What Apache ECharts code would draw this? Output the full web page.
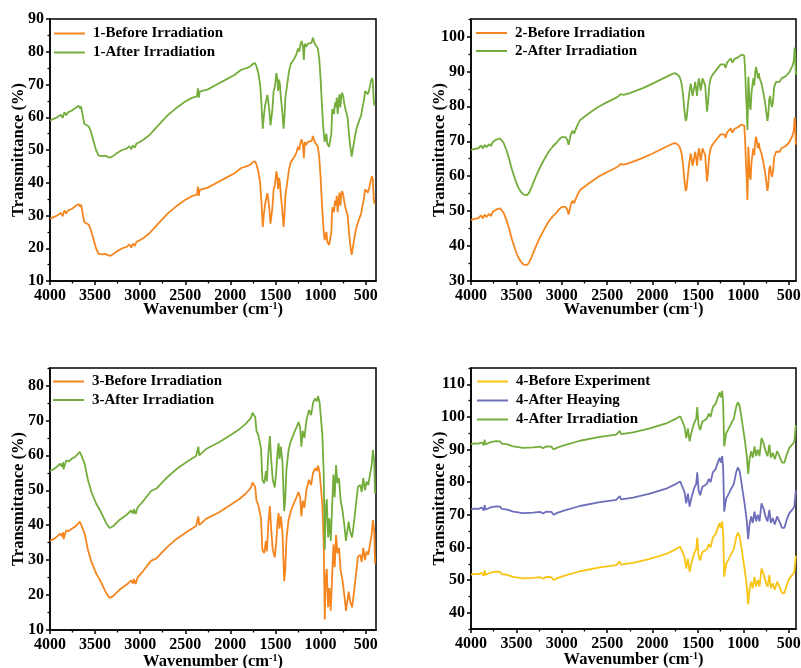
<!DOCTYPE html>
<html>
<head>
<meta charset="utf-8">
<title>FTIR spectra</title>
<script src="https://cdn.jsdelivr.net/npm/echarts@6/dist/echarts.min.js"></script>
<style>
  html, body { margin: 0; padding: 0; background: #fff; }
  #chart { width: 801px; height: 668px; }
</style>
</head>
<body>
<div id="chart"></div>
<script>
// ---- Panel 1 ----
const p1Wavenumber = [4000,3960,3920,3880,3860,3840,3820,3800,3780,3760,3740,3720,3700,3680,3665,3655,3640,3620,3600,3570,3545,3520,3490,3460,3420,3390,3360,3330,3300,3260,3200,3150,3120,3100,3080,3060,3040,3000,2960,2900,2850,2800,2750,2700,2600,2500,2420,2370,2360,2350,2340,2320,2250,2150,2050,1950,1880,1820,1780,1750,1735,1725,1710,1690,1670,1655,1640,1630,1615,1600,1590,1580,1568,1555,1545,1535,1520,1505,1490,1480,1470,1460,1450,1440,1425,1410,1400,1390,1370,1350,1330,1300,1270,1250,1235,1225,1210,1195,1185,1175,1160,1140,1120,1100,1085,1075,1065,1050,1030,1015,1000,985,970,955,945,935,925,915,905,890,880,870,860,850,840,830,820,810,800,790,780,770,760,750,735,720,700,685,670,655,645,635,625,610,595,580,565,550,535,520,505,490,475,460,445,430,420,410,400];
const p1After = [59,59.5,60,60.8,59.8,61.5,60.6,61.5,60.9,62,61.6,62.8,62.4,63.5,62.6,63.3,61,58,57.5,57.2,55.5,53,50,48.3,48.1,48.3,47.9,47.7,48.2,49,50,50.4,51.2,50.2,51.4,50.7,52,52.5,53.2,54.5,56,57.5,59,60.5,62.8,64.8,66,66.4,68.8,66,67.8,67.8,68.5,70,71.5,73,74.5,75,75.5,76.3,75.8,76.5,75.5,73.5,70,64,56.5,60,63.5,64,66.8,65,62,57.5,57,62,68,69.5,73.5,72,68,71.5,70,66,62,56.5,60,66,70,74,76.3,77.5,79,81,80,82,83.3,81.5,77.5,82.5,81.5,82.5,83,82.7,84.3,83.8,82.5,83,81,78,72,64,57,52.5,53,55,52,52.5,51,51.5,55,62.5,63,61,64.5,63,66,61,64.5,67,63,66.5,67.5,66.5,64,62,60,55,51,48,47.6,48.5,53,55.5,57,57.5,59.5,60.5,63,65,68,67.5,67,68.5,70.5,72,71,65,63.5];
const p1Before = [29,29.5,30,30.8,29.8,31.5,30.6,31.5,30.9,32,31.6,32.8,32.4,33.5,32.6,33.3,31,28,27.5,27.2,25.5,23,20,18.3,18.1,18.3,17.9,17.7,18.2,19,20,20.4,21.2,20.2,21.4,20.7,22,22.5,23.2,24.5,26,27.5,29,30.5,32.8,34.8,36,36.4,38.8,36,37.8,37.8,38.5,40,41.5,43,44.5,45,45.5,46.3,45.8,46.5,45.5,43.5,40,34,26.5,30,33.5,34,36.8,35,32,27.5,27,32,38,39.5,43.5,42,38,41.5,40,36,32,26.5,30,36,40,44,46.3,47.5,49,51,50,52,53.3,51.5,47.5,52.5,51.5,52.5,53,52.7,54.3,53.8,52.5,53,51,48,42,34,27,22.5,23,25,22,22.5,21,21.5,25,32.5,33,31,34.5,33,36,31,34.5,37,33,36.5,37.5,36.5,34,32,30,25,21,18,17.6,18.5,23,25.5,27,27.5,29.5,30.5,33,35,38,37.5,37,38.5,40.5,42,41,35,33.5];

// ---- Panel 2 ----
const p2Wavenumber = [4000,3960,3920,3890,3870,3850,3830,3800,3780,3760,3740,3720,3700,3680,3660,3640,3610,3580,3550,3510,3480,3450,3420,3400,3380,3360,3330,3300,3250,3200,3150,3100,3060,3030,3000,2980,2960,2940,2925,2915,2900,2880,2865,2850,2830,2800,2750,2700,2600,2500,2420,2380,2350,2320,2300,2250,2200,2100,2000,1900,1820,1780,1750,1720,1700,1680,1665,1650,1635,1625,1610,1595,1580,1570,1560,1550,1540,1530,1520,1510,1500,1490,1480,1470,1460,1450,1440,1430,1420,1410,1400,1390,1375,1360,1340,1310,1280,1250,1230,1210,1195,1180,1160,1140,1120,1100,1080,1060,1040,1020,1000,990,980,970,962,955,950,945,940,930,920,910,900,890,880,870,860,850,840,830,820,800,780,760,745,735,725,715,705,695,685,675,660,640,620,600,580,560,540,520,500,480,460,445,435,430,422];
const p2After = [67.5,67.8,68,68.8,67.9,69,68.3,69.2,68.6,69.8,69.3,70.5,70.2,70.8,70.2,69.5,67.5,65,62,58.8,56.8,55.5,54.7,54.5,54.6,55.3,57,59,62,64.5,66.8,68.5,69.5,70.5,71.2,71.5,71.2,70.5,69,70.2,72,73,72.2,72.5,74.5,76,77,78,79.8,81.2,82.2,82.8,83.5,83.3,83.5,83.8,84.3,85.3,86.5,87.8,88.8,89.3,89.5,89,88.3,86.5,83.5,79,75.8,76.5,80.5,84,86.5,85,83,82.5,85.5,87,85,83,86,88,86.5,84.5,86,88,87.5,88.2,86,82,78.5,81,86,88,89,90,91,92,92.5,92,91,92.5,93,93.7,92.5,93.5,94,94,94.5,94.8,95.2,94.5,90,83,79,73.2,79,88.5,86,80,79,84,86,88,86,89.5,91.3,90,88,89.5,88,86.5,84,81,78,75.8,77.5,82,83,81,79.8,81,85.5,87,87.5,87,88,88.5,88.5,89,89.5,90.5,91.5,93,96.8,95,89];
const p2Before = [47.5,47.8,48,48.8,47.9,49,48.3,49.2,48.6,49.8,49.3,50.5,50.2,50.8,50.2,49.5,47.5,45,42,38.8,36.8,35.5,34.7,34.5,34.6,35.3,37,39,42,44.5,46.8,48.5,49.5,50.5,51.2,51.5,51.2,50.5,49,50.2,52,53,52.2,52.5,54.5,56,57,58,59.8,61.2,62.2,62.8,63.5,63.3,63.5,63.8,64.3,65.3,66.5,67.8,68.8,69.3,69.5,69,68.3,66.5,63.5,59,55.8,56.5,60.5,64,66.5,65,63,62.5,65.5,67,65,63,66,68,66.5,64.5,66,68,67.5,68.2,66,62,58.5,61,66,68,69,70,71,72,72.5,72,71,72.5,73,73.7,72.5,73.5,74,74,74.5,74.8,75.2,74.5,70,63,59,53.2,59,68.5,66,60,59,64,66,68,66,69.5,71.3,70,68,69.5,68,66.5,64,61,58,55.8,57.5,62,63,61,59.8,61,65.5,67,67.5,67,68,68.5,68.5,69,69.5,70.5,71.5,73,76.8,75,69];

// ---- Panel 3 ----
const p3Wavenumber = [4000,3960,3920,3890,3870,3855,3850,3820,3790,3760,3720,3690,3670,3655,3640,3615,3580,3540,3485,3450,3375,3340,3300,3230,3150,3100,3080,3070,3050,3030,2970,2880,2820,2710,2600,2490,2380,2355,2345,2335,2270,2120,1975,1900,1830,1770,1755,1740,1725,1710,1690,1675,1660,1645,1625,1605,1595,1580,1562,1548,1530,1508,1492,1477,1465,1455,1440,1422,1403,1392,1378,1355,1330,1292,1263,1245,1226,1212,1197,1178,1157,1128,1105,1083,1060,1042,1027,1010,997,980,965,953,942,931,916,902,887,872,857,843,828,813,795,777,758,736,718,703,688,670,651,633,611,585,559,544,526,507,489,470,452,434,419,404,396];
const p3After = [55.6,56,56.8,57.6,56.8,58,56,58.5,58.3,59,59.6,60.4,61,60.2,60,57.5,53,49.5,46,44.5,40.5,39.2,39.7,41.5,43,44.2,43.3,44.6,43.2,45,46.8,49.8,50.5,53.5,56,58,59.8,62.5,60,60.5,61.8,63.8,66.2,67.5,69,70.8,72.2,72,71,67,65.8,66.2,62,53,52,55.5,52.5,60,65.5,59,53,50.8,55,61,63.5,59,62.5,58,44,47,56,61.5,64,66.5,68.2,69.5,68,62.5,67,65,70,73,71.5,75,76.3,75.5,77,75,71,66,55,33,45,47.5,36.5,42,35.5,45,54.5,48,57.2,52,53.5,47,44.5,40,35.5,35,41,38,36.5,40,45,51,51.5,49.5,53.5,50,52.5,51.5,54.5,57,61.5,58,49];
const p3Before = [35.6,36,36.8,37.6,36.8,38,36,38.5,38.3,39,39.6,40.4,41,40.2,40,37.5,33,29.5,26,24.5,20.5,19.2,19.7,21.5,23,24.2,23.3,24.6,23.2,25,26.8,29.8,30.5,33.5,36,38,39.8,42.5,40,40.5,41.8,43.8,46.2,47.5,49,50.8,52.2,52,51,47,45.8,46.2,42,33,32,35.5,32.5,40,45.5,39,33,30.8,35,41,43.5,39,42.5,38,24,27,36,41.5,44,46.5,48.2,49.5,48,42.5,47,45,50,53,51.5,55,56.3,55.5,57,55,51,46,35,13,25,27.5,16.5,22,15.5,25,34.5,28,37.2,32,33.5,27,24.5,20,15.5,15,21,18,16.5,20,25,31,31.5,29.5,33.5,30,32.5,31.5,34.5,37,41.5,38,29];

// ---- Panel 4 ----
const p4Wavenumber = [4000,3960,3920,3880,3860,3850,3840,3800,3760,3740,3720,3700,3680,3660,3640,3600,3535,3425,3315,3240,3205,3170,3115,3090,3075,3050,2985,2800,2580,2400,2362,2347,2215,2030,1850,1740,1695,1673,1648,1629,1611,1592,1574,1544,1519,1508,1493,1475,1453,1427,1401,1380,1361,1336,1306,1281,1262,1248,1233,1222,1211,1189,1160,1134,1105,1079,1061,1042,1024,1006,984,962,947,932,914,896,877,859,841,822,800,778,756,734,713,698,676,654,628,603,573,548,522,493,463,438,422];
const p4Irradiation = [91.7,91.9,91.8,92.2,91.3,93,91.6,92.1,92.4,91.8,92.6,92,92.5,91.8,92.2,91.6,91,90.5,90.7,90.9,90.4,91,90.9,90,89.8,90.6,91.2,92.7,93.9,94.6,95.7,94.7,95.3,96.5,98,99.5,100.2,99.8,97,93.5,96.5,92.5,95,98,99.5,103,97.5,96,98.5,99,99.5,101,100,103,104,106,107.5,106,108,104,91,95,96.5,98,99.5,103,104.5,103.5,100.5,97,93,88,82.5,87,89.5,87.5,91,88,90,88,93.5,92,89.5,88,91.5,87.5,89,87,89.5,88,86,86,88.5,90.5,91.5,92.5,97.5];
const p4Heaying = [71.7,71.9,71.8,72.2,71.3,73,71.6,72.1,72.4,71.8,72.6,72,72.5,71.8,72.2,71.6,71,70.5,70.7,70.9,70.4,71,70.9,70,69.8,70.6,71.2,72.7,73.9,74.6,75.7,74.7,75.3,76.5,78,79.5,80.2,79.8,77,73.5,76.5,72.5,75,78,79.5,83,77.5,76,78.5,79,79.5,81,80,83,84,86,87.5,86,88,84,71,75,76.5,78,79.5,83,84.5,83.5,80.5,77,73,68,62.5,67,69.5,67.5,71,68,70,68,73.5,72,69.5,68,71.5,67.5,69,67,69.5,68,66,66,68.5,70.5,71.5,72.5,77.5];
const p4Before = [51.7,51.9,51.8,52.2,51.3,53,51.6,52.1,52.4,51.8,52.6,52,52.5,51.8,52.2,51.6,51,50.5,50.7,50.9,50.4,51,50.9,50,49.8,50.6,51.2,52.7,53.9,54.6,55.7,54.7,55.3,56.5,58,59.5,60.2,59.8,57,53.5,56.5,52.5,55,58,59.5,63,57.5,56,58.5,59,59.5,61,60,63,64,66,67.5,66,68,64,51,55,56.5,58,59.5,63,64.5,63.5,60.5,57,53,48,42.5,47,49.5,47.5,51,48,50,48,53.5,52,49.5,48,51.5,47.5,49,47,49.5,48,46,46,48.5,50.5,51.5,52.5,57.5];

// ---- Axis ticks ----
const xMajorTicks = [4000,3500,3000,2500,2000,1500,1000,500];
const xMinorTicks = [3750,3250,2750,2250,1750,1250,750];
const y1Major = [10,20,30,40,50,60,70,80,90];
const y1Minor = [15,25,35,45,55,65,75,85];
const y2Major = [30,40,50,60,70,80,90,100];
const y2Minor = [35,45,55,65,75,85,95,105];
const y3Major = [10,20,30,40,50,60,70,80];
const y3Minor = [15,25,35,45,55,65,75,85];
const y4Major = [40,50,60,70,80,90,100,110];
const y4Minor = [35,45,55,65,75,85,95,105,115];

// ---- Colours ----
const ORANGE = '#F5861F';
const GREEN = '#74AD3C';
const YELLOW = '#F8C415';
const PURPLE = '#6E6EBB';

const FONT = '"Liberation Serif", "Times New Roman", serif';

const panels = [
  {
    grid: { left: 50, top: 19, width: 326, height: 262 },
    xMin: 385, yMin: 10, yMax: 90, yMajor: y1Major, yMinor: y1Minor, xNameGap: 20,
    legend: { left: 54, top: 25.5, itemGap: 3 },
    wn: p1Wavenumber,
    series: [
      { name: '1-Before Irradiation', values: p1Before, color: ORANGE },
      { name: '1-After Irradiation', values: p1After, color: GREEN }
    ]
  },
  {
    grid: { left: 471, top: 19, width: 325, height: 262 },
    xMin: 420, yMin: 30, yMax: 105, yMajor: y2Major, yMinor: y2Minor, xNameGap: 20,
    legend: { left: 476, top: 25, itemGap: 2 },
    wn: p2Wavenumber,
    series: [
      { name: '2-Before Irradiation', values: p2Before, color: ORANGE },
      { name: '2-After Irradiation', values: p2After, color: GREEN }
    ]
  },
  {
    grid: { left: 50, top: 368, width: 326, height: 262 },
    xMin: 385, yMin: 10, yMax: 85, yMajor: y3Major, yMinor: y3Minor, xNameGap: 23,
    legend: { left: 53, top: 373.5, itemGap: 2.5 },
    wn: p3Wavenumber,
    series: [
      { name: '3-Before Irradiation', values: p3Before, color: ORANGE },
      { name: '3-After Irradiation', values: p3After, color: GREEN }
    ]
  },
  {
    grid: { left: 471, top: 368, width: 325, height: 261 },
    xMin: 420, yMin: 35, yMax: 115, yMajor: y4Major, yMinor: y4Minor, xNameGap: 22,
    legend: { left: 477, top: 373.5, itemGap: 3 },
    wn: p4Wavenumber,
    series: [
      { name: '4-Before Experiment', values: p4Before, color: YELLOW },
      { name: '4-After Heaying', values: p4Heaying, color: PURPLE },
      { name: '4-After Irradiation', values: p4Irradiation, color: GREEN }
    ]
  }
];

const axisLineStyle = { color: '#000', width: 1.5 };
const labelStyle = { fontFamily: FONT, fontWeight: 'bold', fontSize: 16, color: '#000' };
const plain = v => String(v);

const option = {
  animation: false,
  backgroundColor: '#fff',
  grid: [], xAxis: [], yAxis: [], legend: [], series: []
};

panels.forEach((p, k) => {
  option.grid.push(Object.assign({
    show: true, borderColor: '#000', borderWidth: 1.5,
    containLabel: false, outerBoundsMode: 'none'
  }, p.grid));

  // wavenumber axis with labelled ticks
  option.xAxis.push({
    type: 'value', gridIndex: k, inverse: true, min: p.xMin, max: 4000,
    position: 'bottom',
    axisLine: { show: true, onZero: false, lineStyle: axisLineStyle },
    axisTick: { show: true, inside: false, length: 4, lineStyle: { width: 1.5, color: '#000' }, customValues: xMajorTicks },
    axisLabel: Object.assign({ margin: 7, customValues: xMajorTicks, formatter: plain, hideOverlap: false }, labelStyle),
    splitLine: { show: false },
    name: '{t|Wavenumber (cm}{s|-1}{t|)}',
    nameLocation: 'middle', nameGap: p.xNameGap, nameMoveOverlap: false,
    nameTextStyle: {
      rich: {
        t: { fontFamily: FONT, fontWeight: 'bold', fontSize: 16.5, color: '#000', lineHeight: 18 },
        s: { fontFamily: FONT, fontWeight: 'bold', fontSize: 10, color: '#000', verticalAlign: 'top', lineHeight: 18 }
      }
    }
  });
  // minor ticks on the wavenumber axis
  option.xAxis.push({
    type: 'value', gridIndex: k, inverse: true, min: p.xMin, max: 4000,
    position: 'bottom',
    axisLine: { show: false, onZero: false },
    axisTick: { show: true, inside: false, length: 2.5, lineStyle: { width: 1.3, color: '#000' }, customValues: xMinorTicks },
    axisLabel: { show: false },
    splitLine: { show: false }
  });

  option.yAxis.push({
    type: 'value', gridIndex: k, min: p.yMin, max: p.yMax, position: 'left',
    axisLine: { show: true, onZero: false, lineStyle: axisLineStyle },
    axisTick: { show: true, inside: false, length: 4, lineStyle: { width: 1.5, color: '#000' }, customValues: p.yMajor },
    axisLabel: Object.assign({ margin: 6, customValues: p.yMajor, formatter: plain, hideOverlap: false }, labelStyle),
    splitLine: { show: false },
    name: 'Transmittance (%)',
    nameLocation: 'middle', nameGap: 23, nameMoveOverlap: false,
    nameTextStyle: { fontFamily: FONT, fontWeight: 'bold', fontSize: 16.5, color: '#000' }
  });
  option.yAxis.push({
    type: 'value', gridIndex: k, min: p.yMin, max: p.yMax, position: 'left',
    axisLine: { show: false, onZero: false },
    axisTick: { show: true, inside: false, length: 2.5, lineStyle: { width: 1.3, color: '#000' }, customValues: p.yMinor },
    axisLabel: { show: false },
    splitLine: { show: false }
  });

  option.legend.push({
    orient: 'vertical',
    left: p.legend.left, top: p.legend.top, itemGap: p.legend.itemGap,
    padding: 0,
    icon: 'rect',
    itemWidth: 31, itemHeight: 2,
    textStyle: { fontFamily: FONT, fontWeight: 'bold', fontSize: 15, color: '#000', lineHeight: 16, padding: [0, 0, 0, 3] },
    data: p.series.map(s => s.name)
  });

  p.series.forEach(s => {
    option.series.push({
      name: s.name,
      type: 'line',
      xAxisIndex: 2 * k,
      yAxisIndex: 2 * k,
      symbol: 'none',
      smooth: false,
      color: s.color,
      lineStyle: { color: s.color, width: 1.8 },
      data: p.wn.map((w, i) => [w, s.values[i]])
    });
  });
});

const chart = echarts.init(document.getElementById('chart'), null, { renderer: 'canvas' });
chart.setOption(option);
</script>
</body>
</html>
